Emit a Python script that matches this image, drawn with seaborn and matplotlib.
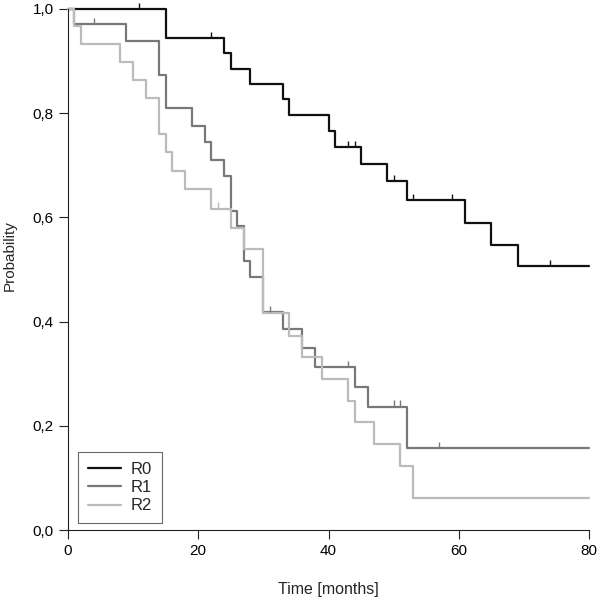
import numpy
import pandas
import seaborn
import matplotlib
matplotlib.use('Agg')
import matplotlib.pyplot as pyplt
from matplotlib.ticker import FuncFormatter

# event times (months) and survival after each event
r0_times = [15, 24, 25, 28, 33, 34, 40, 41, 45, 49, 52, 61, 65, 69]
r0_surv = [0.944, 0.915, 0.885, 0.856, 0.827, 0.796, 0.765, 0.735,
           0.702, 0.669, 0.633, 0.590, 0.548, 0.506]
r0_censor = [11, 22, 43, 44, 50, 53, 59, 74]

r1_times = [1, 9, 14, 15, 19, 21, 22, 24, 25, 26, 27, 28, 30, 33, 36, 38,
            44, 46, 52]
r1_surv = [0.971, 0.938, 0.873, 0.810, 0.775, 0.744, 0.710, 0.679, 0.613,
           0.583, 0.517, 0.485, 0.419, 0.385, 0.350, 0.313, 0.275, 0.237,
           0.158]
r1_censor = [4, 31, 43, 50, 51, 57]

r2_times = [1, 2, 8, 10, 12, 14, 15, 16, 18, 22, 25, 27, 30, 34, 36, 39,
            43, 44, 47, 51, 53]
r2_surv = [0.967, 0.933, 0.898, 0.864, 0.829, 0.760, 0.725, 0.690, 0.654,
           0.617, 0.579, 0.540, 0.417, 0.373, 0.333, 0.290, 0.248, 0.207,
           0.165, 0.123, 0.062]
r2_censor = [23]

groups = ['R0', 'R1', 'R2']
colors = dict(R0='#111111', R1='#787878', R2='#bbbbbb')
end_time = 80

curves = dict(
    R0=(r0_times, r0_surv, r0_censor),
    R1=(r1_times, r1_surv, r1_censor),
    R2=(r2_times, r2_surv, r2_censor),
)

frames = []
for name in groups:
    times, surv, _ = curves[name]
    t = [0] + times + [end_time]
    s = [1.0] + surv + [surv[-1]]
    frames.append(pandas.DataFrame(dict(time=t, surv=s, group=name)))
data = pandas.concat(frames, ignore_index=True)

seaborn.set_style('ticks')
pyplt.rcParams['font.family'] = ['Liberation Sans', 'DejaVu Sans']
pyplt.rcParams['font.size'] = 11

fig = pyplt.figure(figsize=(6.0, 5.97), dpi=100)
ax = fig.add_axes([0.113, 0.112, 0.869, 0.873])

seaborn.lineplot(
    data=data,
    x='time',
    y='surv',
    hue='group',
    palette=colors,
    estimator=None,
    drawstyle='steps-post',
    linewidth=1.6,
    ax=ax,
    clip_on=False,
)

# censor marks: short upward ticks on the step curve
for name in groups:
    times, surv, cens = curves[name]
    t = numpy.array([0] + times)
    s = numpy.array([1.0] + surv)
    idx = numpy.searchsorted(t, cens, side='right') - 1
    ax.vlines(cens, s[idx], s[idx] + 0.012, color=colors[name],
              linewidth=1.0, clip_on=False)

ax.set_xlim(0, 80)
ax.set_ylim(0, 1)
ax.set_xticks([0, 20, 40, 60, 80])
ax.set_yticks([0, 0.2, 0.4, 0.6, 0.8, 1.0])
ax.yaxis.set_major_formatter(FuncFormatter(lambda v, p: f'{v:.1f}'.replace('.', ',')))
ax.tick_params(direction='out', length=6.5, width=0.8, colors='#222222',
               labelcolor='black', labelsize=11)
for side in ['left', 'bottom']:
    ax.spines[side].set_color('#222222')
    ax.spines[side].set_linewidth(0.8)
seaborn.despine(ax=ax)

ax.set_xlabel('Time [months]', fontsize=11.5, labelpad=17)
ax.set_ylabel('Probability', fontsize=11)
ax.yaxis.set_label_coords(-0.098, 0.526)

leg = ax.legend(
    loc='lower left',
    bbox_to_anchor=(0.019, 0.013),
    borderaxespad=0,
    frameon=True,
    fancybox=False,
    edgecolor='#444444',
    handlelength=2.0,
    handletextpad=0.55,
    fontsize=12,
    borderpad=0.6,
    labelspacing=0.2,
)
leg.get_frame().set_linewidth(0.8)

fig.savefig('out.png', dpi=100)
